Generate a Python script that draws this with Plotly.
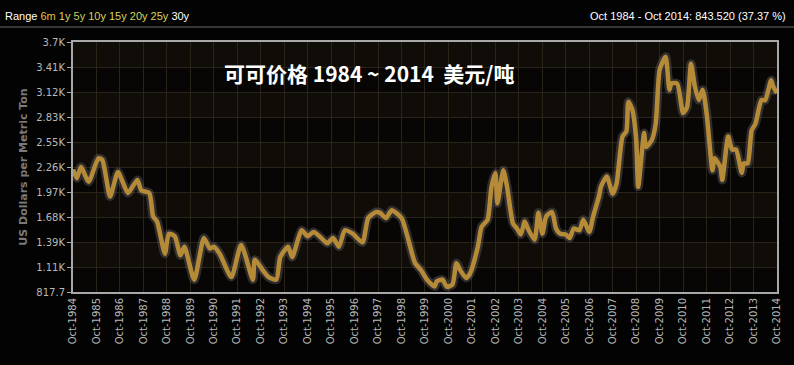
import plotly.graph_objects as go

dates = ["1984-10","1984-12","1985-02","1985-06","1985-11","1986-01","1986-05","1986-09",
         "1987-02","1987-05","1987-07","1987-09","1988-01","1988-03","1988-05","1988-09",
         "1988-11","1989-02","1989-05","1989-07","1989-12","1990-05","1990-08","1990-10",
         "1991-01","1991-07","1991-12","1992-06","1992-07","1992-11","1993-02","1993-06",
         "1993-08","1993-12","1994-02","1994-07","1994-10","1995-01","1995-05","1995-08",
         "1995-11","1996-02","1996-05","1996-09","1997-02","1997-05","1997-09","1997-11",
         "1998-02","1998-05","1998-10","1999-01","1999-05","1999-08","1999-11","2000-03",
         "2000-04","2000-07","2000-09","2000-12","2001-02","2001-04","2001-07","2001-09",
         "2002-01","2002-03","2002-06","2002-08","2002-10","2002-11","2003-02","2003-04",
         "2003-07","2003-09","2003-11","2004-01","2004-03","2004-06","2004-08","2004-10",
         "2004-12","2005-03","2005-05","2005-07","2005-10","2005-12","2006-02","2006-05",
         "2006-07","2006-10","2006-12","2007-03","2007-04","2007-07","2007-10","2007-12",
         "2008-03","2008-05","2008-06","2008-08","2008-10","2008-11","2009-02","2009-03",
         "2009-06","2009-08","2009-10","2010-01","2010-03","2010-04","2010-07","2010-10",
         "2010-12","2011-02","2011-04","2011-06","2011-08","2011-10","2012-01","2012-02",
         "2012-05","2012-06","2012-09","2012-11","2013-01","2013-04","2013-05","2013-07",
         "2013-09","2013-11","2014-02","2014-04","2014-07","2014-08","2014-10"]

prices = [2230,2130,2260,2090,2360,2340,1920,2200,
          1960,2050,2110,1990,1960,1690,1630,1260,
          1490,1460,1240,1340,960,1440,1320,1340,
          1260,990,1360,960,1190,1070,990,960,
          1220,1340,1220,1530,1460,1510,1440,1380,
          1440,1340,1530,1490,1390,1670,1740,1730,
          1670,1760,1670,1460,1150,1070,960,880,
          940,960,880,900,1150,1070,980,1030,
          1340,1570,1650,2030,2190,1840,2220,2030,
          1610,1550,1480,1630,1530,1420,1730,1490,
          1690,1740,1550,1490,1480,1440,1550,1530,
          1650,1510,1690,1920,2030,2150,1950,2070,
          2610,2670,3010,2920,2570,2030,2650,2490,
          2570,2760,3380,3530,3150,3220,3220,2880,
          2950,3450,3190,3030,3150,2880,2220,2360,
          2260,2110,2610,2460,2460,2190,2300,2300,
          2680,2760,3030,3030,3260,3190,3110]

ytick_vals = [817.7,1105.9,1394.2,1682.4,1970.6,2258.9,2547.1,2835.3,3123.5,3411.8,3700]
ytick_text = ["817.7","1.11K","1.39K","1.68K","1.97K","2.26K","2.55K","2.83K","3.12K","3.41K","3.7K"]
years = list(range(1984, 2015))
xtick_vals = [f"{y}-10-01" for y in years]
xtick_text = [f"Oct-{y}" for y in years]

title = "可可价格 1984 ~ 2014  美元/吨"
summary = "Oct 1984 - Oct 2014: 843.520 (37.37 %)"

fig = go.Figure()

shapes = []
for i in range(1, len(ytick_vals) - 1, 2):
    shapes.append(dict(type="rect", xref="paper", yref="y", x0=0, x1=1,
                       y0=ytick_vals[i], y1=ytick_vals[i + 1],
                       fillcolor="#100d09", line_width=0, layer="below"))
shapes.append(dict(type="line", xref="paper", yref="paper", x0=-0.11, x1=1.03,
                   y0=1.06, y1=1.06, line=dict(color="#6a6a6a", width=1)))

fig.add_trace(go.Scatter(x=dates, y=prices, mode="lines",
                         line=dict(color="rgba(120,115,120,0.35)", width=9, shape="spline", smoothing=0.6),
                         hoverinfo="skip", showlegend=False))
fig.add_trace(go.Scatter(x=dates, y=prices, mode="lines",
                         line=dict(color="#b58b38", width=4.5, shape="spline", smoothing=0.6),
                         showlegend=False))

fig.update_layout(
    width=794, height=365,
    margin=dict(l=73, r=15, t=42, b=73),
    paper_bgcolor="#030303",
    plot_bgcolor="#070604",
    shapes=shapes,
    font=dict(family="DejaVu Sans", color="#b8b8b8", size=10),
    xaxis=dict(range=["1984-10-01", "2014-10-01"], tickvals=xtick_vals, ticktext=xtick_text,
               tickangle=-90, showgrid=True, gridcolor="#2a2318", gridwidth=1,
               showline=True, linecolor="#a8a8a8", linewidth=2, mirror=True,
               ticks="", tickfont=dict(size=10, color="#b8b8b8"), zeroline=False),
    yaxis=dict(range=[817.7, 3700], tickvals=ytick_vals, ticktext=ytick_text,
               showgrid=True, gridcolor="#2a2318", gridwidth=1,
               showline=True, linecolor="#a8a8a8", linewidth=2, mirror=True,
               ticks="outside", ticklen=4, tickcolor="#a8a8a8",
               tickfont=dict(size=10, color="#b8b8b8"), zeroline=False,
               title=dict(text="<b>US Dollars per Metric Ton</b>", font=dict(size=11, color="#7a7a7a"),
                          standoff=6)),
    annotations=[
        dict(text=title, xref="paper", yref="paper", x=0.42, y=0.876, xanchor="center", yanchor="middle",
             showarrow=False, font=dict(family="Noto Sans CJK SC", size=21, color="#ffffff", weight="bold")),
        dict(text="Range <span style='color:#e0c040'>6m</span> <span style='color:#d9d45a'>1y</span> "
                  "<span style='color:#c8d060'>5y</span> <span style='color:#d9d45a'>10y 15y 20y 25y</span> 30y",
             xref="paper", yref="paper", x=-0.099, y=1.104, xanchor="left", yanchor="middle",
             showarrow=False, font=dict(family="Liberation Sans", size=11, color="#ffffff")),
        dict(text=summary, xref="paper", yref="paper", x=1.0156, y=1.104, xanchor="right", yanchor="middle",
             showarrow=False, font=dict(family="Liberation Sans", size=11, color="#ffffff")),
    ],
)

fig.write_html("out.html", config={"displayModeBar": False},
               post_script="document.body.style.margin='0';document.body.style.background='#030303';")
